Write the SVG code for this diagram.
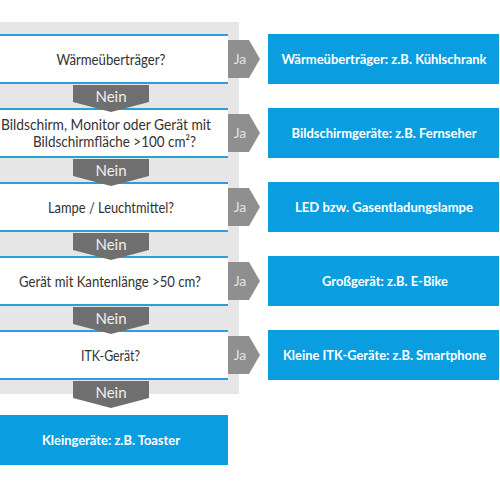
<svg xmlns="http://www.w3.org/2000/svg" width="500" height="500" viewBox="0 0 500 500">
<style>
.q{font-family:Lato,"Liberation Sans",sans-serif;font-size:15px;fill:#333;text-anchor:middle}
.q2{font-size:14.5px}
.r{font-family:Lato,"Liberation Sans",sans-serif;font-size:13.5px;font-weight:bold;fill:#fff;text-anchor:middle}
.ja{font-family:Lato,"Liberation Sans",sans-serif;font-size:14px;fill:#e4e4e4;text-anchor:middle}
.nein{font-family:Lato,"Liberation Sans",sans-serif;font-size:15px;fill:#f0f0f0;text-anchor:middle}
.box{fill:#fff}
.ln{stroke:#2a9fd8;stroke-width:2}
.blue{fill:#0a9de0}
.jaa{fill:#8f8f8f}
.na{fill:#6f6f6f}
</style>
<rect x="0" y="22" width="239" height="372" fill="#e6e6e6"/>
<g id="q1">
<rect class="box" x="0" y="34" width="228" height="50"/>
<line class="ln" x1="0" y1="35" x2="228" y2="35"/><line class="ln" x1="0" y1="83" x2="228" y2="83"/>
<text class="q" x="111" y="65" textLength="109" lengthAdjust="spacingAndGlyphs">Wärmeüberträger?</text>
</g>
<g id="q2">
<rect class="box" x="0" y="108" width="228" height="50"/>
<line class="ln" x1="0" y1="109" x2="228" y2="109"/><line class="ln" x1="0" y1="157" x2="228" y2="157"/>
<text class="q q2" x="106" y="129.5" textLength="210" lengthAdjust="spacingAndGlyphs">Bildschirm, Monitor oder Gerät mit</text>
<text class="q q2" x="114.5" y="146.5" textLength="163" lengthAdjust="spacingAndGlyphs">Bildschirmfläche &gt;100 cm²?</text>
</g>
<g id="q3">
<rect class="box" x="0" y="182" width="228" height="50"/>
<line class="ln" x1="0" y1="183" x2="228" y2="183"/><line class="ln" x1="0" y1="231" x2="228" y2="231"/>
<text class="q" x="111" y="213" textLength="126" lengthAdjust="spacingAndGlyphs">Lampe / Leuchtmittel?</text>
</g>
<g id="q4">
<rect class="box" x="0" y="256" width="228" height="50"/>
<line class="ln" x1="0" y1="257" x2="228" y2="257"/><line class="ln" x1="0" y1="305" x2="228" y2="305"/>
<text class="q" x="110" y="287" textLength="182" lengthAdjust="spacingAndGlyphs">Gerät mit Kantenlänge &gt;50 cm?</text>
</g>
<g id="q5">
<rect class="box" x="0" y="330" width="228" height="50"/>
<line class="ln" x1="0" y1="331" x2="228" y2="331"/><line class="ln" x1="0" y1="379" x2="228" y2="379"/>
<text class="q" x="110.5" y="361" textLength="59" lengthAdjust="spacingAndGlyphs">ITK-Gerät?</text>
</g>
<g id="r1">
<rect class="blue" x="268" y="34" width="231" height="50"/>
<text class="r" x="384" y="63.5" textLength="205" lengthAdjust="spacingAndGlyphs">Wärmeüberträger: z.B. Kühlschrank</text>
</g>
<g id="r2">
<rect class="blue" x="268" y="108" width="231" height="50"/>
<text class="r" x="384" y="137.5" textLength="185" lengthAdjust="spacingAndGlyphs">Bildschirmgeräte: z.B. Fernseher</text>
</g>
<g id="r3">
<rect class="blue" x="268" y="182" width="231" height="50"/>
<text class="r" x="384" y="211.5" textLength="178" lengthAdjust="spacingAndGlyphs">LED bzw. Gasentladungslampe</text>
</g>
<g id="r4">
<rect class="blue" x="268" y="256" width="231" height="50"/>
<text class="r" x="385" y="285.5" textLength="126" lengthAdjust="spacingAndGlyphs">Großgerät: z.B. E-Bike</text>
</g>
<g id="r5">
<rect class="blue" x="268" y="330" width="231" height="50"/>
<text class="r" x="384.5" y="359.5" textLength="203" lengthAdjust="spacingAndGlyphs">Kleine ITK-Geräte: z.B. Smartphone</text>
</g>
<g id="r6">
<rect class="blue" x="0" y="415" width="228" height="50"/>
<text class="r" x="111" y="444.5" textLength="138" lengthAdjust="spacingAndGlyphs">Kleingeräte: z.B. Toaster</text>
</g>
<g id="connectors">
<polygon class="jaa" points="228,40 249,40 260,59 249,78 228,78"/>
<text class="ja" x="240" y="64">Ja</text>
<polygon class="jaa" points="228,114 249,114 260,133 249,152 228,152"/>
<text class="ja" x="240" y="138">Ja</text>
<polygon class="jaa" points="228,188 249,188 260,207 249,226 228,226"/>
<text class="ja" x="240" y="212">Ja</text>
<polygon class="jaa" points="228,262 249,262 260,281 249,300 228,300"/>
<text class="ja" x="240" y="286">Ja</text>
<polygon class="jaa" points="228,336 249,336 260,355 249,374 228,374"/>
<text class="ja" x="240" y="360">Ja</text>
<polygon class="na" points="73,85 149,85 149,102 111,112 73,102"/>
<text class="nein" x="111" y="101.5">Nein</text>
<polygon class="na" points="73,159 149,159 149,176 111,186 73,176"/>
<text class="nein" x="111" y="175.5">Nein</text>
<polygon class="na" points="73,233 149,233 149,250 111,260 73,250"/>
<text class="nein" x="111" y="249.5">Nein</text>
<polygon class="na" points="73,307 149,307 149,324 111,334 73,324"/>
<text class="nein" x="111" y="323.5">Nein</text>
<polygon class="na" points="73,381 149,381 149,398 111,408 73,398"/>
<text class="nein" x="111" y="397.5">Nein</text>
</g>
</svg>
